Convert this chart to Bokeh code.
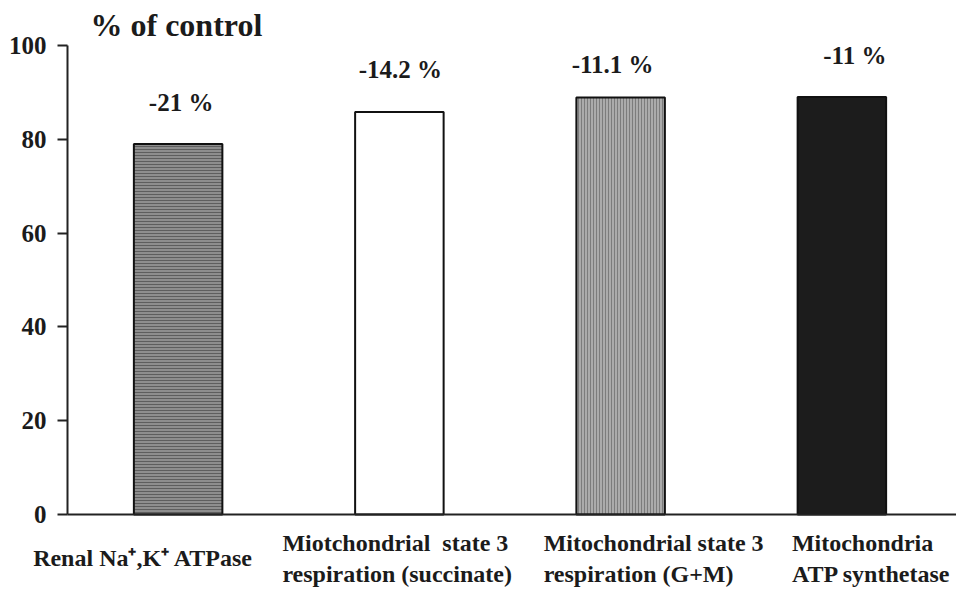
from bokeh.plotting import figure
from bokeh.models import (ColumnDataSource, Range1d, LabelSet,
                          FixedTicker, LinearAxis)
from bokeh.embed import file_html
from bokeh.resources import INLINE

# ---- data ----
categories = [
    "Renal Na\u207a,K\u207a ATPase",
    "Miotchondrial  state 3\nrespiration (succinate)",
    "Mitochondrial state 3\nrespiration (G+M)",
    "Mitochondria\nATP synthetase",
]
values = [79, 85.8, 88.9, 89]
change_labels = ["-21 %", "-14.2 %", "-11.1 %", "-11 %"]
y_ticks = [0, 20, 40, 60, 80, 100]
y_title = "% of control"

# ---- styles / layout ----
fills = ["#8e8e8e", "#ffffff", "#ababab", "#1c1c1c"]
hatches = ["-", " ", "|", " "]
hatch_colors = ["#5e5e5e", "#ffffff", "#7c7c7c", "#1c1c1c"]
lab_dx = [3, 1, -8, 13]          # value-label offsets (px)
lab_dy = [33, 34, 25, 33]
cat_dx = [-145, -117, -77, -50]  # category-label left offsets (px)

SERIF = "Liberation Serif"
INK = "#1b1b1b"
W, H = 956, 590
# pixel box of the data area inside the canvas
AX_L, AX_R, AX_T, AX_B = 67, 952, 45, 514
x_lo, x_hi = -0.5, 3.5
y_lo, y_hi = 0, 100

ux = (AX_R - AX_L) / (x_hi - x_lo)
uy = (AX_B - AX_T) / (y_hi - y_lo)
xr = Range1d(x_lo - AX_L / ux, x_hi + (W - AX_R) / ux)
yr = Range1d(y_lo - (H - AX_B) / uy, y_hi + AX_T / uy)

p = figure(width=W, height=H, x_range=xr, y_range=yr,
           output_backend="svg", toolbar_location=None,
           x_axis_type=None, y_axis_type=None, min_border=0)
p.outline_line_color = None
p.xgrid.visible = False
p.ygrid.visible = False

xs = list(range(len(values)))
src = ColumnDataSource(dict(x=xs, top=values, fill=fills, hatch=hatches,
                            hcolor=hatch_colors, text=change_labels,
                            dx=lab_dx, dy=lab_dy))

p.vbar(x="x", top="top", bottom=0, width=0.4, source=src,
       fill_color="fill", line_color="#111111", line_width=2,
       hatch_pattern="hatch", hatch_color="hcolor", hatch_scale=3,
       hatch_weight=1)

p.add_layout(LabelSet(x="x", y="top", text="text", source=src,
                      x_offset="dx", y_offset="dy",
                      text_align="center", text_baseline="alphabetic",
                      text_font=SERIF, text_font_style="bold",
                      text_font_size="25px", text_color=INK))

# y axis drawn at x = x_lo
ya = LinearAxis(fixed_location=x_lo, bounds=(y_lo, y_hi),
                ticker=FixedTicker(ticks=y_ticks))
ya.minor_tick_line_color = None
ya.major_tick_in = 0
ya.major_tick_out = 10
ya.major_tick_line_width = 2
ya.major_tick_line_color = "#222222"
ya.axis_line_width = 2
ya.axis_line_color = "#222222"
ya.major_label_standoff = 11
ya.major_label_text_font = SERIF
ya.major_label_text_font_style = "bold"
ya.major_label_text_font_size = "25px"
ya.major_label_text_color = INK
p.add_layout(ya, "left")

# x axis line at y = 0
xa = LinearAxis(fixed_location=y_lo, bounds=(x_lo, xr.end),
                ticker=FixedTicker(ticks=[]))
xa.major_tick_line_color = None
xa.minor_tick_line_color = None
xa.major_label_text_font_size = "0px"
xa.axis_line_width = 2
xa.axis_line_color = "#222222"
p.add_layout(xa, "below")

# title
tsrc = ColumnDataSource(dict(x=[x_lo], y=[y_hi], text=[y_title]))
p.add_layout(LabelSet(x="x", y="y", text="text", source=tsrc,
                      x_offset=23, y_offset=10,
                      text_font=SERIF, text_font_style="bold",
                      text_font_size="32px", text_color=INK,
                      text_align="left", text_baseline="alphabetic"))

# category labels (left-aligned, two lines; single line centred)
cx, cy, ct, cdx, cdy = [], [], [], [], []
for i, cat in enumerate(categories):
    lines = cat.split("\n")
    n = len(lines)
    for k, line in enumerate(lines):
        cx.append(i)
        cy.append(y_lo)
        ct.append(line.replace("  ", " \u00a0"))
        cdx.append(cat_dx[i])
        cdy.append(-36 - 31 * k - (2 - n) * 15.5)
csrc = ColumnDataSource(dict(x=cx, y=cy, text=ct, dx=cdx, dy=cdy))
p.add_layout(LabelSet(x="x", y="y", text="text", source=csrc,
                      x_offset="dx", y_offset="dy",
                      text_font=SERIF, text_font_style="bold",
                      text_font_size="24px", text_color=INK,
                      text_align="left", text_baseline="alphabetic"))

open("out.html", "w").write(file_html(p, INLINE))
